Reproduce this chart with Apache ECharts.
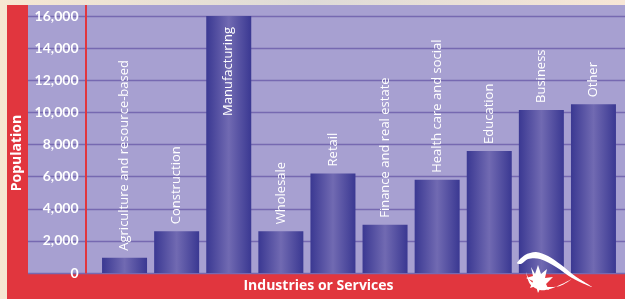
<!DOCTYPE html>
<html>
<head>
<meta charset="utf-8">
<script src="https://cdn.jsdelivr.net/npm/echarts@6/dist/echarts.min.js"></script>
<style>html,body{margin:0;padding:0;}#c{width:625px;height:299px;}</style>
</head>
<body>
<div id="c"></div>
<script>
const categories = ['Agriculture and resource-based','Construction','Manufacturing','Wholesale','Retail','Finance and real estate','Health care and social','Education','Business','Other'];
const populationValues = [950, 2600, 16050, 2600, 6200, 3000, 5800, 7600, 10150, 10500];
const yTicks = { min: 0, max: 16000, interval: 2000 };
const xTitle = 'Industries or Services';
const yTitle = 'Population';

const RED = '#e1363e';
const PURPLE = '#a7a0d1';
const FONT = 'Lato';
const LFONT = '"Open Sans"';

const chart = echarts.init(document.getElementById('c'), null, {renderer: 'canvas'});

const barData = populationValues.map(function (v) {
  if (v >= 15000) {
    return { value: v, label: { position: 'insideTop', align: 'right', distance: 11 } };
  }
  return v;
});

chart.setOption({
  animation: false,
  backgroundColor: {
    type: 'linear', x: 0, y: 0, x2: 1, y2: 0,
    colorStops: [{offset: 0, color: '#f6e7d2'}, {offset: 0.5, color: '#dedbd8'}, {offset: 1, color: '#f7e6d6'}]
  },
  graphic: [
    { type: 'rect', z: -10, shape: { x: 7, y: 5, width: 618, height: 294 }, style: { fill: RED } },
    { type: 'rect', z: -9, shape: { x: 28, y: 5, width: 597, height: 268.5 }, style: { fill: PURPLE } },
    { type: 'rect', z: 50, shape: { x: 85, y: 5, width: 2, height: 268.5 }, style: { fill: RED } },
    { type: 'text', z: 50, x: 318.5, y: 286, style: { text: xTitle, fill: '#fff', font: 'bold 14px ' + LFONT, align: 'center', verticalAlign: 'middle' } },
    { type: 'text', z: 50, x: 17, y: 153, rotation: Math.PI / 2, style: { text: yTitle, fill: '#fff', font: 'bold 14px ' + LFONT, align: 'center', verticalAlign: 'middle' } },
    { type: 'polygon', z: 60, shape: { smooth: 0.3, points: [[517,263],[525,255],[536,252],[548,256],[560,264],[575,276],[592,287],[572,278],[556,267],[540,259],[528,259],[521,264]] }, style: { fill: '#fff' } },
    { type: 'polygon', z: 60, shape: { smooth: 0.3, points: [[526,272],[530,284],[540,290],[550,289],[562,284],[572,279],[560,286],[548,287],[536,285],[529,279]] }, style: { fill: '#fff' } },
    { type: 'polygon', z: 60, shape: { points: [[531,267],[535,274],[538,265],[541,274],[547,269],[545,278],[553,277],[546,284],[549,290],[541,287],[538,293],[536,286],[530,288],[533,281],[526,278],[533,276]] }, style: { fill: '#fff' } }
  ],
  grid: [
    { left: 28, right: 0, top: 16, bottom: 26 },
    { left: 98.5, right: 5.5, top: 16, bottom: 26 }
  ],
  xAxis: [
    { gridIndex: 0, type: 'value', min: 0, max: 1, show: false },
    { gridIndex: 1, type: 'category', data: categories, axisLine: { show: false }, axisTick: { show: false }, axisLabel: { show: false }, splitLine: { show: false } }
  ],
  yAxis: [
    { gridIndex: 0, type: 'value', min: yTicks.min, max: yTicks.max, interval: yTicks.interval,
      axisLine: { show: false }, axisTick: { show: false }, axisLabel: { show: false },
      splitLine: { show: true, lineStyle: { color: '#7669b1', width: 1.3 } } },
    { gridIndex: 1, type: 'value', min: yTicks.min, max: yTicks.max, interval: yTicks.interval,
      axisLine: { show: false }, axisTick: { show: false }, splitLine: { show: false },
      axisLabel: { color: '#fff', fontFamily: FONT, fontWeight: 'bold', fontSize: 14, margin: 20,
        formatter: function (v) { return v.toLocaleString('en-US'); } } }
  ],
  series: [{
    type: 'bar',
    xAxisIndex: 1, yAxisIndex: 1,
    barWidth: 45,
    data: barData,
    itemStyle: {
      color: { type: 'linear', x: 0, y: 0, x2: 1, y2: 0,
        colorStops: [{offset: 0, color: '#3a3892'}, {offset: 0.5, color: '#716ab2'}, {offset: 1, color: '#3a3892'}] }
    },
    label: {
      show: true, position: 'top', rotate: 90, align: 'left', verticalAlign: 'middle', distance: 7,
      color: '#fff', fontFamily: LFONT, fontSize: 13, fontWeight: 500,
      formatter: function (p) { return p.name; }
    }
  }]
});
</script>
</body>
</html>
